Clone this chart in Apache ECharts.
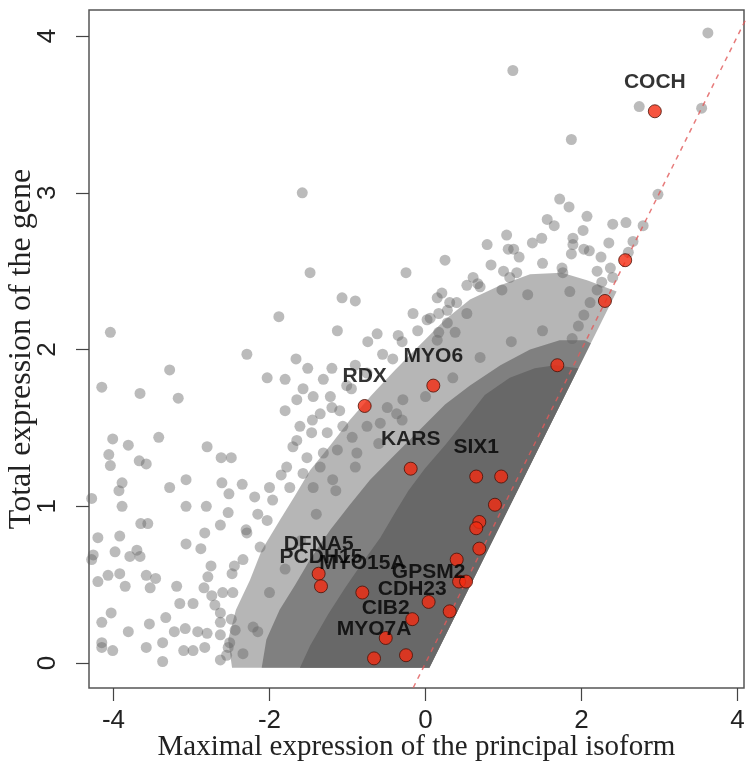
<!DOCTYPE html>
<html>
<head>
<meta charset="utf-8">
<script src="https://cdn.jsdelivr.net/npm/echarts@6/dist/echarts.min.js"></script>
<style>
  html, body { margin: 0; padding: 0; background: #fff; }
  #chart { width: 750px; height: 771px; }
</style>
</head>
<body>
<div id="chart"></div>
<script>
// tick values
const xTicks = [-4, -2, 0, 2, 4];
const yTicks = [0, 1, 2, 3, 4];

// highlighted genes (red points), '' = unlabeled
const geneNames = ['COCH', '', '', '', 'MYO6', 'RDX', 'KARS', 'SIX1', '', '', '', '', '', '', '', '',
  'GPSM2', '', 'CDH23', 'CIB2', 'DFNA5', 'PCDH15', 'MYO15A', 'MYO7A', ''];
const geneX = [2.94, 2.56, 2.30, 1.69, 0.10, -0.78, -0.19, 0.65, 0.97, 0.89, 0.69, 0.65, 0.69, 0.40, 0.43, 0.52,
  0.04, 0.31, -0.17, -0.51, -1.37, -1.34, -0.81, -0.66, -0.25];
const geneY = [3.52, 2.57, 2.31, 1.90, 1.77, 1.64, 1.24, 1.19, 1.19, 1.01, 0.90, 0.86, 0.73, 0.66, 0.52, 0.52,
  0.39, 0.33, 0.28, 0.16, 0.57, 0.49, 0.45, 0.03, 0.05];

// individually visible grey genes
const bgX = [-4.04, -1.88, -2.29, -4.15, -3.28, -3.66, -3.17, -2.03, -1.80, -4.01, -3.81, -3.42, -2.80, -4.06, -4.04,
  -3.67, -3.58, -2.62, -2.49, -3.89, -3.93, -4.28, -3.07, -3.28, -3.89, -3.07, -2.81, -2.61, -2.52, -3.65, -3.56,
  -2.63, -2.53, -4.20, -3.92, -3.98, -3.70, -3.79, -3.66, -3.07, -2.88, -4.28, -4.20, -4.07, -3.92, -3.85, -3.58,
  -3.46, -3.53, -3.19, -2.75, -2.79, -2.84, -2.48, -3.15, -2.98, -2.74, -2.70, -4.03, -4.15, -3.33, -3.54, -3.81,
  -3.22, -3.08, -2.92, -2.63, -2.63, -3.37, -4.15, -4.15, -4.01, -3.58, -3.10, -2.98, -2.83, -3.37, -2.63, -2.49,
  -2.44, -2.53, -4.26,
  -1.58, -1.48, -0.25, 0.25, -1.07, -0.90, -1.13, -0.16, 0.15, 0.21, 0.06, 0.17, 0.28, 0.28, 0.17, -0.62, -0.74,
  -0.35, -1.66, -1.51, -1.20, -0.42,
  1.12, 2.74, 1.87, 1.72, 1.84, 1.56, 1.65, 2.07, 2.40, 2.57, 2.02, 1.04, 0.79, 1.49, 1.37, 1.89, 1.06, 1.13, 1.20,
  1.89, 2.03, 2.10, 1.87, 2.35, 2.25, 0.84, 1.75, 1.76, 1.17, 1.08, 0.61, 0.53, 0.67, 0.31, 0.98, 1.31, 2.37, 2.40,
  1.85,
  3.54, 2.98, 2.79, 2.66, 2.60, 3.62, 2.20, 2.11, 2.03, 1.96, 1.88, 2.26,
  -1.31, -1.57, -1.01, -0.90, 0.02, 0.38, 0.53, 0.15, -1.80, -1.65, -1.44, -1.22, -1.10, -1.35, -1.61, -1.46, -1.26,
  -1.06, -0.94, -0.49, -0.37, -0.29, -0.75, -0.58, -1.70, -1.52, -1.31, -1.13, -0.88, -1.78, -1.57, -1.35, -1.74,
  -1.44, -1.19,
  -2.35, -2.19, -2.29, -2.83, -2.47, -2.63, -2.80, -2.51, -2.34, -2.21, -2.34, -2.12, -2.03, -1.96,
  -2.55, -2.60, -2.45, -2.30, -2.15, -2.00, -1.85, -1.65, -1.45, -1.20, -0.95, -0.75, -0.55, -0.30, -0.10, 0.40,
  0.70, 1.00, 1.50, 2.20,
  -2.15, -2.00, -1.80, -1.60, -1.40, -1.15, -0.90, -0.60, -0.30, 0.00, 0.35, 0.70, 1.10, 1.50];
const bgY = [2.11, 2.21, 1.97, 1.76, 1.87, 1.72, 1.69, 1.82, 1.81, 1.43, 1.39, 1.44, 1.38, 1.33, 1.26,
  1.29, 1.27, 1.31, 1.31, 1.15, 1.10, 1.05, 1.17, 1.12, 1.00, 1.00, 1.00, 1.15, 1.08, 0.89, 0.89,
  0.88, 0.96, 0.80, 0.81, 0.71, 0.72, 0.68, 0.68, 0.76, 0.73, 0.66, 0.52, 0.56, 0.57, 0.49, 0.56,
  0.54, 0.48, 0.49, 0.62, 0.55, 0.48, 0.57, 0.38, 0.38, 0.43, 0.37, 0.32, 0.26, 0.29, 0.25, 0.20,
  0.20, 0.22, 0.20, 0.26, 0.18, 0.13, 0.13, 0.10, 0.08, 0.10, 0.08, 0.08, 0.10, 0.01, 0.02, 0.28,
  0.21, 0.10, 0.69,
  3.00, 2.49, 2.49, 2.57, 2.33, 2.31, 2.12, 2.23, 2.33, 2.36, 2.20, 2.23, 2.25, 2.17, 2.11, 2.10, 2.05,
  2.09, 1.94, 1.88, 1.88, 1.94,
  3.78, 3.55, 3.34, 2.96, 2.91, 2.83, 2.79, 2.85, 2.80, 2.81, 2.76, 2.73, 2.67, 2.71, 2.68, 2.71, 2.64, 2.64, 2.59,
  2.67, 2.64, 2.63, 2.61, 2.68, 2.59, 2.54, 2.52, 2.49, 2.49, 2.46, 2.46, 2.41, 2.42, 2.30, 2.38, 2.35, 2.52, 2.46,
  2.37,
  3.54, 2.99, 2.79, 2.69, 2.62, 4.02, 2.38, 2.30, 2.22, 2.15, 2.07, 2.43,
  1.81, 1.75, 1.77, 1.90, 2.19, 2.11, 2.23, 2.06, 1.61, 1.68, 1.70, 1.70, 1.61, 1.59, 1.51, 1.47, 1.47,
  1.51, 1.44, 1.63, 1.59, 1.68, 1.51, 1.53, 1.38, 1.31, 1.34, 1.36, 1.34, 1.25, 1.21, 1.25, 1.12,
  1.12, 1.17,
  1.14, 1.06, 0.83, 0.83, 0.45, 0.32, 0.19, 0.13, 0.06, 0.23, 0.66, 0.74, 0.91, 1.04,
  0.05, 0.45, 0.62, 0.85, 0.95, 1.12, 1.20, 1.42, 1.55, 1.63, 1.75, 1.85, 1.97, 2.05, 2.12, 2.30,
  2.40, 2.50, 2.55, 2.50,
  0.20, 0.45, 0.60, 0.78, 0.95, 1.10, 1.25, 1.40, 1.55, 1.70, 1.82, 1.95, 2.05, 2.12];

// outlines of the overplotted (solid) part of the cloud, three density levels
const outerX = [-2.48, -2.53, -2.43, -2.25, -2.10, -1.87, -1.67, -1.48, -1.22, -0.97, -0.69, -0.39, -0.07, 0.25, 0.57,
  0.96, 1.34, 1.75, 2.08, 2.45, 0.05];
const outerY = [-0.03, 0.15, 0.34, 0.53, 0.72, 0.91, 1.07, 1.23, 1.39, 1.55, 1.71, 1.87, 2.03, 2.19, 2.32,
  2.41, 2.48, 2.49, 2.44, 2.37, -0.03];
const midX = [-2.10, -2.04, -1.87, -1.67, -1.48, -1.22, -0.97, -0.71, -0.39, -0.07, 0.25, 0.57, 0.96, 1.34, 1.72,
  2.04, 2.12, 0.05];
const midY = [-0.03, 0.15, 0.34, 0.50, 0.66, 0.85, 1.01, 1.17, 1.33, 1.49, 1.65, 1.77, 1.90, 2.00, 2.06,
  2.06, 2.04, -0.03];
const coreX = [-1.61, -1.48, -1.25, -1.03, -0.81, -0.58, -0.39, -0.22, -0.01, 0.25, 0.51, 0.76, 1.08, 1.40, 1.66,
  1.96, 0.05];
const coreY = [-0.03, 0.11, 0.31, 0.48, 0.64, 0.80, 0.96, 1.10, 1.24, 1.39, 1.55, 1.71, 1.82, 1.88, 1.90,
  1.88, -0.03];

// y = x reference line
const diagX = [-0.5, 4.5];
const diagY = [-0.5, 4.5];

function densityLayer(xs, ys, fill, z) {
  return {
    type: 'custom',
    silent: true,
    z: z,
    data: xs.map((x, i) => [x, ys[i]]),
    encode: { x: 0, y: 1 },
    renderItem: (params, api) => {
      if (params.dataIndex !== 0) return null;
      const pts = xs.map((x, i) => api.coord([x, ys[i]]));
      return { type: 'polygon', shape: { points: pts }, style: { fill: fill } };
    }
  };
}

const chart = echarts.init(document.getElementById('chart'), null, { renderer: 'canvas' });

const option = {
  animation: false,
  backgroundColor: '#fff',
  grid: {
    left: 89, right: 6, top: 10, bottom: 83,
    outerBoundsMode: 'none', containLabel: false,
    show: true, borderColor: '#555', borderWidth: 1.5
  },
  xAxis: {
    type: 'value',
    min: -4.314,
    max: 4.083,
    name: 'Maximal expression of the principal isoform',
    nameLocation: 'middle',
    nameGap: 45,
    nameMoveOverlap: false,
    nameTextStyle: { fontFamily: 'Liberation Serif', fontSize: 29, color: '#222' },
    axisLine: { show: false, onZero: false },
    splitLine: { show: false },
    axisTick: { show: true, length: 13, customValues: xTicks, lineStyle: { color: '#444', width: 1.2 } },
    axisLabel: { customValues: xTicks, fontFamily: 'Liberation Sans', fontSize: 26, color: '#222', margin: 20 }
  },
  yAxis: {
    type: 'value',
    min: -0.159,
    max: 4.166,
    name: 'Total expression of the gene',
    nameLocation: 'middle',
    nameGap: 51,
    nameMoveOverlap: false,
    nameTextStyle: { fontFamily: 'Liberation Serif', fontSize: 32, color: '#222' },
    axisLine: { show: false, onZero: false },
    splitLine: { show: false },
    axisTick: { show: true, length: 13, customValues: yTicks, lineStyle: { color: '#444', width: 1.2 } },
    axisLabel: { customValues: yTicks, rotate: 90, fontFamily: 'Liberation Sans', fontSize: 26, color: '#222', margin: 28 }
  },
  series: [
    densityLayer(outerX, outerY, 'rgba(110,110,110,0.5)', 1),
    densityLayer(midX, midY, 'rgba(105,105,105,0.7)', 1),
    densityLayer(coreX, coreY, 'rgb(104,104,104)', 1),
    {
      name: 'genes',
      type: 'scatter',
      z: 2,
      silent: true,
      symbolSize: 11,
      itemStyle: { color: 'rgba(100,100,100,0.55)' },
      data: bgX.map((x, i) => [x, bgY[i]])
    },
    {
      name: 'y = x',
      type: 'line',
      z: 3,
      silent: true,
      symbol: 'none',
      clip: true,
      lineStyle: { color: 'rgba(225,90,90,0.8)', width: 1.5, type: [5, 5] },
      data: diagX.map((x, i) => [x, diagY[i]])
    },
    {
      name: 'hearing genes',
      type: 'scatter',
      z: 4,
      symbolSize: 13,
      itemStyle: { color: '#f42a10', borderColor: '#4a1208', borderWidth: 1 },
      label: {
        show: true,
        position: 'top',
        distance: 12,
        formatter: p => geneNames[p.dataIndex],
        fontFamily: 'Liberation Sans',
        fontWeight: 'bold',
        fontSize: 21,
        color: '#000'
      },
      data: geneX.map((x, i) => [x, geneY[i]])
    }
  ]
};

chart.setOption(option);
</script>
</body>
</html>
